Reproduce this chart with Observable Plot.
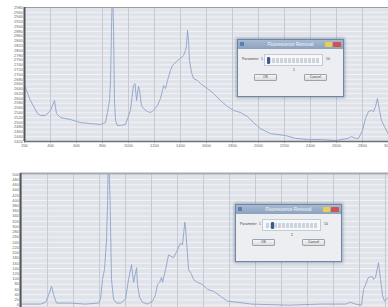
<!DOCTYPE html>
<html><head><meta charset="utf-8">
<script src="https://cdn.jsdelivr.net/npm/d3@7"></script>
<script src="https://cdn.jsdelivr.net/npm/@observablehq/plot@0.6"></script>
<style>
html,body{margin:0;padding:0;background:#fff;width:388px;height:307px;overflow:hidden;font-family:"Liberation Sans",sans-serif}
#wrap{position:relative;width:388px;height:307px;overflow:hidden}
.chart{position:absolute;left:0}
.dlg{position:absolute;background:#eceef2;border:1px solid #6f86a6;box-shadow:0 0 3px 1px rgba(70,90,120,.45);box-sizing:border-box}
.tb{position:absolute;left:0;right:0;top:0;height:9px;background:linear-gradient(#a9bad1,#8ba2c0);color:#f5f7fb;font-size:4.5px;line-height:9px;text-align:center}
.ico{position:absolute;top:2px;width:4px;height:4px;background:#5a7fb0;left:2px}
.mn{position:absolute;top:2px;width:7px;height:5px;background:#e5cf55;border-radius:1px}
.cl{position:absolute;top:2px;width:8px;height:5px;background:#d2514a;border-radius:1px}
.t{position:absolute;font-size:3.5px;color:#444;line-height:5px;white-space:nowrap}
.sl{position:absolute;border:1px solid #c5cbd4;background:#f7f8fa;box-sizing:border-box}
.trk{position:absolute;left:3px;right:3px;top:3px;height:5px;background:repeating-linear-gradient(90deg,#cdd3dc 0 3px,transparent 3px 4px)}
.th{position:absolute;top:2px;width:3px;height:7px;background:#3d5c8c;border-radius:1px}
.bt{position:absolute;height:7px;border:1px solid #9aa3ae;border-radius:1px;background:linear-gradient(#f6f6f6,#dcdcdc);box-sizing:border-box;font-size:3.5px;line-height:5px;text-align:center;color:#333}
</style></head>
<body><div id="wrap"></div>
<script>
// ---- data ----
const xTicks = [200,400,600,800,1000,1200,1400,1600,1800,2000,2200,2400,2600,2800,3000];
const yTicksTop = d3.range(2420, 2981, 20);
const yTicksBottom = d3.range(0, 501, 20);

const wavenumberTop = [200,246,300,323,362,400,431,446,477,554,631,708,785,823,838,854,862,869,877,885,892,900,915,938,977,1015,1038,1050,1062,1077,1085,1100,1115,1146,1169,1192,1223,1246,1262,1269,1285,1300,1323,1338,1377,1400,1423,1438,1446,1454,1462,1469,1485,1500,1531,1554,1608,1654,1708,1762,1808,1862,1915,1962,2015,2092,2208,2285,2385,2485,2592,2692,2715,2746,2769,2800,2823,2846,2869,2885,2900,2915,2931,2946,2969,3000];
const intensityTop = [2654,2591,2537,2529,2529,2550,2591,2537,2520,2512,2499,2495,2491,2499,2541,2591,2675,2884,3100,2884,2591,2508,2487,2487,2491,2550,2654,2662,2591,2650,2633,2570,2558,2545,2541,2550,2570,2600,2633,2654,2641,2675,2717,2738,2758,2767,2779,2800,2821,2884,2842,2758,2708,2683,2675,2662,2641,2621,2591,2566,2550,2541,2524,2499,2474,2453,2445,2433,2428,2428,2424,2433,2441,2433,2433,2466,2516,2545,2550,2545,2566,2600,2550,2508,2483,2449];

const wavenumberBottom = [200,269,346,385,408,431,446,469,577,692,792,808,823,838,854,862,869,881,892,908,931,962,1000,1023,1046,1062,1085,1092,1108,1131,1169,1208,1231,1246,1262,1277,1285,1308,1331,1369,1400,1423,1438,1446,1456,1462,1477,1485,1508,1523,1554,1592,1631,1677,1731,1785,1862,1969,2254,2500,2692,2731,2769,2815,2831,2869,2900,2908,2923,2946,2962,2977,2992,3023];
const intensityBottom = [4,4,4,11,38,72,41,8,8,4,8,23,98,136,249,400,600,400,98,23,8,8,23,98,155,87,143,79,30,11,4,15,41,79,87,106,87,136,192,181,211,238,230,268,317,294,192,136,117,98,87,79,60,53,34,15,11,4,0,4,4,11,4,0,60,106,109,98,106,162,98,38,15,30];

const dialogTitle = "Fluorescence Removal";
const paramLabel = "Parameter:";
const sliderMin = 1, sliderMax = 10;
const sliderTop = 1, sliderBottom = 2;

// ---- charts ----
const topX = [200, 3000], topY = [2420, 2980];
const botX = [192, 3023], botY = [-9, 503];
const lineColor = "#8ea2c9";
const fmt = d => String(d);

const topData = wavenumberTop.map((w, i) => ({w, v: intensityTop[i]}));
const botData = wavenumberBottom.map((w, i) => ({w, v: intensityBottom[i]}));

const topChart = Plot.plot({
  width: 388, height: 150,
  marginTop: 7, marginBottom: 9, marginLeft: 24, marginRight: 0,
  x: {domain: topX, ticks: xTicks, tickFormat: fmt, tickSize: 1.5, tickPadding: 1, label: null},
  y: {domain: topY, ticks: yTicksTop, tickFormat: fmt, tickSize: 0, tickPadding: 1.5, label: null},
  style: {fontSize: "4px", color: "#666", fontFamily: "Liberation Sans", background: "transparent", overflow: "visible"},
  marks: [
    Plot.frame({fill: "#e0e4ea", stroke: null}),
    Plot.ruleY(yTicksTop, {stroke: "#f2f4f6", strokeWidth: 1}),
    Plot.ruleX(xTicks, {stroke: "#c6cbd3", strokeWidth: 1}),
    Plot.line(topData, {x: "w", y: "v", stroke: lineColor, strokeWidth: 0.9, clip: true}),
    Plot.ruleY([topY[1]], {stroke: "#999ea6", strokeWidth: 1.2}),
    Plot.ruleY([topY[0]], {stroke: "#6d7178", strokeWidth: 1.5}),
    Plot.ruleX([topX[0]], {stroke: "#555", strokeWidth: 2})
  ]
});

const botChart = Plot.plot({
  width: 388, height: 157,
  marginTop: 23, marginBottom: 0, marginLeft: 20, marginRight: 0,
  x: {domain: botX, axis: null},
  y: {domain: botY, ticks: yTicksBottom, tickFormat: fmt, tickSize: 0, tickPadding: 1.5, label: null},
  style: {fontSize: "4px", color: "#666", fontFamily: "Liberation Sans", background: "transparent", overflow: "visible"},
  marks: [
    Plot.frame({fill: "#e0e4ea", stroke: null}),
    Plot.ruleY(yTicksBottom, {stroke: "#f2f4f6", strokeWidth: 1}),
    Plot.ruleX(xTicks, {stroke: "#c6cbd3", strokeWidth: 1}),
    Plot.line(botData, {x: "w", y: "v", stroke: lineColor, strokeWidth: 0.9, clip: true}),
    Plot.ruleY([botY[1]], {stroke: "#a3a7ae", strokeWidth: 2}),
    Plot.ruleX([botX[0]], {stroke: "#555", strokeWidth: 2})
  ]
});

const wrap = document.getElementById("wrap");
topChart.classList.add("chart"); topChart.style.top = "0px";
botChart.classList.add("chart"); botChart.style.top = "150px";
wrap.appendChild(topChart);
wrap.appendChild(botChart);

// ---- dialogs (HTML overlay) ----
function dialog(left, top, value) {
  const d = document.createElement("div");
  d.className = "dlg";
  d.style.left = left + "px"; d.style.top = top + "px";
  d.style.width = "107px"; d.style.height = "58px";
  const thumbLeft = 2 + (value - sliderMin) * 5.5;
  d.innerHTML = `
    <div class="tb">${dialogTitle}<div class="ico"></div><div class="mn" style="left:87px"></div><div class="cl" style="left:95px"></div></div>
    <div class="t" style="left:4px;top:17px">${paramLabel}</div>
    <div class="t" style="left:23px;top:17px">${sliderMin}</div>
    <div class="sl" style="left:26px;top:14px;width:59px;height:12px"><div class="trk"></div><div class="th" style="left:${thumbLeft}px"></div></div>
    <div class="t" style="left:88px;top:17px">${sliderMax}</div>
    <div class="t" style="left:55px;top:28px">${value}</div>
    <div class="bt" style="left:16px;top:34px;width:23px">OK</div>
    <div class="bt" style="left:66px;top:34px;width:23px">Cancel</div>`;
  wrap.appendChild(d);
}
dialog(237, 39, sliderTop);
dialog(235, 204, sliderBottom);
</script>
</body></html>
